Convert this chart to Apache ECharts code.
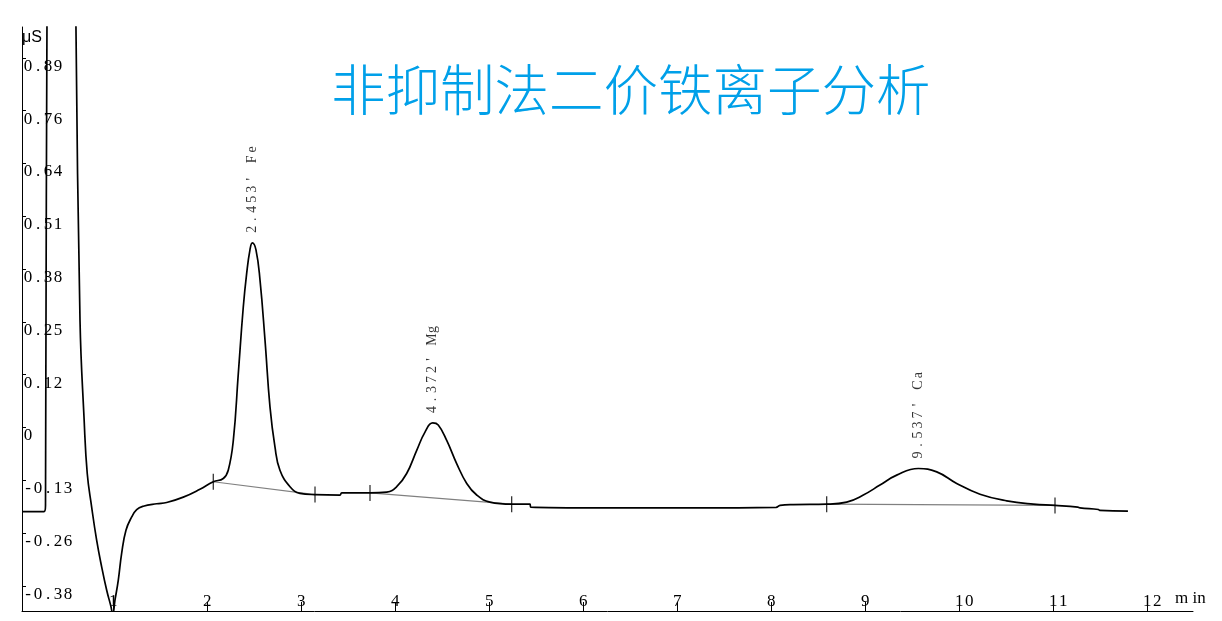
<!DOCTYPE html>
<html>
<head>
<meta charset="utf-8">
<title>非抑制法二价铁离子分析</title>
<script src="https://cdn.jsdelivr.net/npm/echarts@6/dist/echarts.min.js"></script>
<style>
  html, body { margin: 0; padding: 0; background: #fff; }
  #chart { width: 1222px; height: 621px; }
</style>
</head>
<body>
<div id="chart"></div>
<script>
var titleText = '非抑制法二价铁离子分析';

// trace: time in min, signal in µS
var traceTime = [
  0.03, 0.263, 0.279, 0.300, 0.450, 0.595, 0.603, 0.646, 0.690, 0.723,
  0.770, 0.823, 0.877, 0.930, 0.972, 0.995, 1.018, 1.053, 1.089, 1.135,
  1.196, 1.249, 1.319, 1.462, 1.568, 1.745, 1.922, 2.064, 2.170, 2.223,
  2.277, 2.330, 2.383, 2.419, 2.454, 2.479, 2.518, 2.561, 2.614, 2.667,
  2.720, 2.773, 2.880, 2.986, 3.146, 3.411, 3.430, 3.731, 3.909, 4.015,
  4.121, 4.228, 4.316, 4.398, 4.457, 4.547, 4.653, 4.760, 4.866, 5.007,
  5.238, 5.433, 5.440, 6.231, 7.241, 8.050, 8.093, 8.234, 8.589, 8.802,
  8.979, 9.156, 9.334, 9.564, 9.760, 9.972, 10.220, 10.504, 10.787, 11.018,
  11.260, 11.283, 11.480, 11.494, 11.794
];
var traceValue = [
  -0.203, -0.203, -0.188, 1.300, 1.600, 1.200, 0.967, 0.259, 0.018, -0.111,
  -0.192, -0.272, -0.337, -0.393, -0.429, -0.450, -0.417, -0.369, -0.304, -0.248,
  -0.216, -0.198, -0.190, -0.184, -0.181, -0.168, -0.149, -0.131, -0.123, -0.103,
  -0.031, 0.130, 0.291, 0.372, 0.429, 0.446, 0.429, 0.356, 0.211, 0.050,
  -0.047, -0.103, -0.143, -0.159, -0.162, -0.163, -0.158, -0.158, -0.156, -0.143,
  -0.111, -0.055, -0.011, 0.011, 0.006, -0.031, -0.087, -0.135, -0.163, -0.180,
  -0.185, -0.185, -0.192, -0.194, -0.194, -0.193, -0.188, -0.186, -0.185, -0.180,
  -0.163, -0.139, -0.115, -0.099, -0.107, -0.135, -0.161, -0.177, -0.185, -0.188,
  -0.192, -0.194, -0.198, -0.200, -0.202
];

var yTickValues = [-0.3825, -0.255, -0.1275, 0, 0.1275, 0.255, 0.3825, 0.51, 0.6375, 0.765, 0.8925];
var yTickLabels = ['-0.38', '-0.26', '-0.13', '0', '0.12', '0.25', '0.38', '0.51', '0.64', '0.76', '0.89'];
var xTickValues = [1, 2, 3, 4, 5, 6, 7, 8, 9, 10, 11, 12];
var xTickLabels = ['1', '2', '3', '4', '5', '6', '7', '8', '9', '10', '11', '12'];

var peakTime = [2.479, 4.398, 9.564];
var peakValue = [0.446, 0.011, -0.099];
var peakLabels = ["2.453' Fe", "4.372' Mg", "9.537' Ca"];

// integration marks and baselines
var markTime = [2.064, 3.146, 3.731, 5.238, 8.589, 11.018];
var markValue = [-0.131, -0.162, -0.158, -0.185, -0.185, -0.188];
var baseStart = [[2.064, -0.131], [3.731, -0.158], [8.589, -0.185]];
var baseEnd = [[3.146, -0.162], [5.238, -0.185], [11.018, -0.188]];

function spaced(text, style) {
  return text.split('').map(function (c) { return '{' + style + '|' + c + '}'; }).join('');
}

// first char sits on the tick, the rest run to the right
function xLabel(text) {
  var pad = '';
  for (var i = 1; i < text.length; i++) pad += '{c|\u00a0}';
  return pad + spaced(text, 'c');
}

function nearest(arr, v) {
  var best = 0;
  for (var i = 1; i < arr.length; i++) {
    if (Math.abs(arr[i] - v) < Math.abs(arr[best] - v)) best = i;
  }
  return best;
}

var serif = { width: 10, align: 'center', fontFamily: 'Liberation Serif', fontSize: 17, lineHeight: 17, color: '#000' };

var chart = echarts.init(document.getElementById('chart'));

var series = [{
  type: 'line',
  data: traceTime.map(function (t, i) { return [t, traceValue[i]]; }),
  symbol: 'none',
  smooth: 0.45,
  clip: true,
  lineStyle: { color: '#000', width: 1.7 },
  z: 3,
  silent: true
}];

baseStart.forEach(function (a, i) {
  series.push({
    type: 'line',
    data: [a, baseEnd[i]],
    symbol: 'none',
    lineStyle: { color: '#808080', width: 1.2 },
    z: 2,
    silent: true
  });
});

series.push({
  type: 'scatter',
  data: markTime.map(function (t, i) { return [t, markValue[i]]; }),
  symbol: 'rect',
  symbolSize: [1.3, 16],
  itemStyle: { color: '#000' },
  z: 4,
  silent: true
});

series.push({
  type: 'scatter',
  data: peakTime.map(function (t, i) { return [t, peakValue[i]]; }),
  symbolSize: 1,
  itemStyle: { color: 'rgba(0,0,0,0)' },
  label: {
    show: true,
    position: 'top',
    distance: 8,
    rotate: 90,
    align: 'left',
    verticalAlign: 'middle',
    formatter: function (p) { return spaced(peakLabels[p.dataIndex], 'p'); },
    rich: { p: { width: 10, align: 'center', fontFamily: 'Liberation Serif', fontSize: 14, color: '#000' } }
  },
  z: 5,
  silent: true
});

var option = {
  animation: false,
  backgroundColor: '#fff',
  title: {
    text: titleText,
    left: 331,
    top: 62,
    padding: 0,
    textStyle: { color: '#00a0e9', fontSize: 54.5, fontWeight: 300, fontFamily: 'Noto Sans CJK SC' }
  },
  grid: { left: 22, right: 29, top: 27, bottom: 10 },
  xAxis: {
    type: 'value',
    min: 0.029,
    max: 12.486,
    name: 'm in',
    nameLocation: 'end',
    nameGap: -18,
    nameTextStyle: { align: 'left', verticalAlign: 'bottom', padding: [0, 0, 4, 0], fontFamily: 'Liberation Serif', fontSize: 17, color: '#000' },
    axisLine: { show: true, onZero: false, lineStyle: { color: '#000', width: 1 } },
    axisTick: { show: true, inside: true, length: 9, customValues: xTickValues, lineStyle: { color: '#000' } },
    axisLabel: {
      inside: true,
      margin: 1,
      customValues: xTickValues,
      formatter: function (v) { return xLabel(xTickLabels[nearest(xTickValues, v)]); },
      rich: { c: serif }
    },
    splitLine: { show: false }
  },
  yAxis: {
    type: 'value',
    min: -0.443,
    max: 0.967,
    name: 'μS',
    nameLocation: 'end',
    nameGap: -3,
    nameTextStyle: { align: 'left', verticalAlign: 'top', fontFamily: 'Liberation Sans', fontSize: 16, color: '#000' },
    axisLine: { show: true, onZero: false, lineStyle: { color: '#000', width: 1 } },
    axisTick: { show: true, inside: true, length: 4, customValues: yTickValues, lineStyle: { color: '#000' } },
    axisLabel: {
      inside: true,
      margin: 1,
      align: 'left',
      verticalAlign: 'top',
      customValues: yTickValues,
      formatter: function (v) { return spaced(yTickLabels[nearest(yTickValues, v)], 'c'); },
      rich: { c: serif }
    },
    splitLine: { show: false }
  },
  series: series
};

chart.setOption(option);
</script>
</body>
</html>
